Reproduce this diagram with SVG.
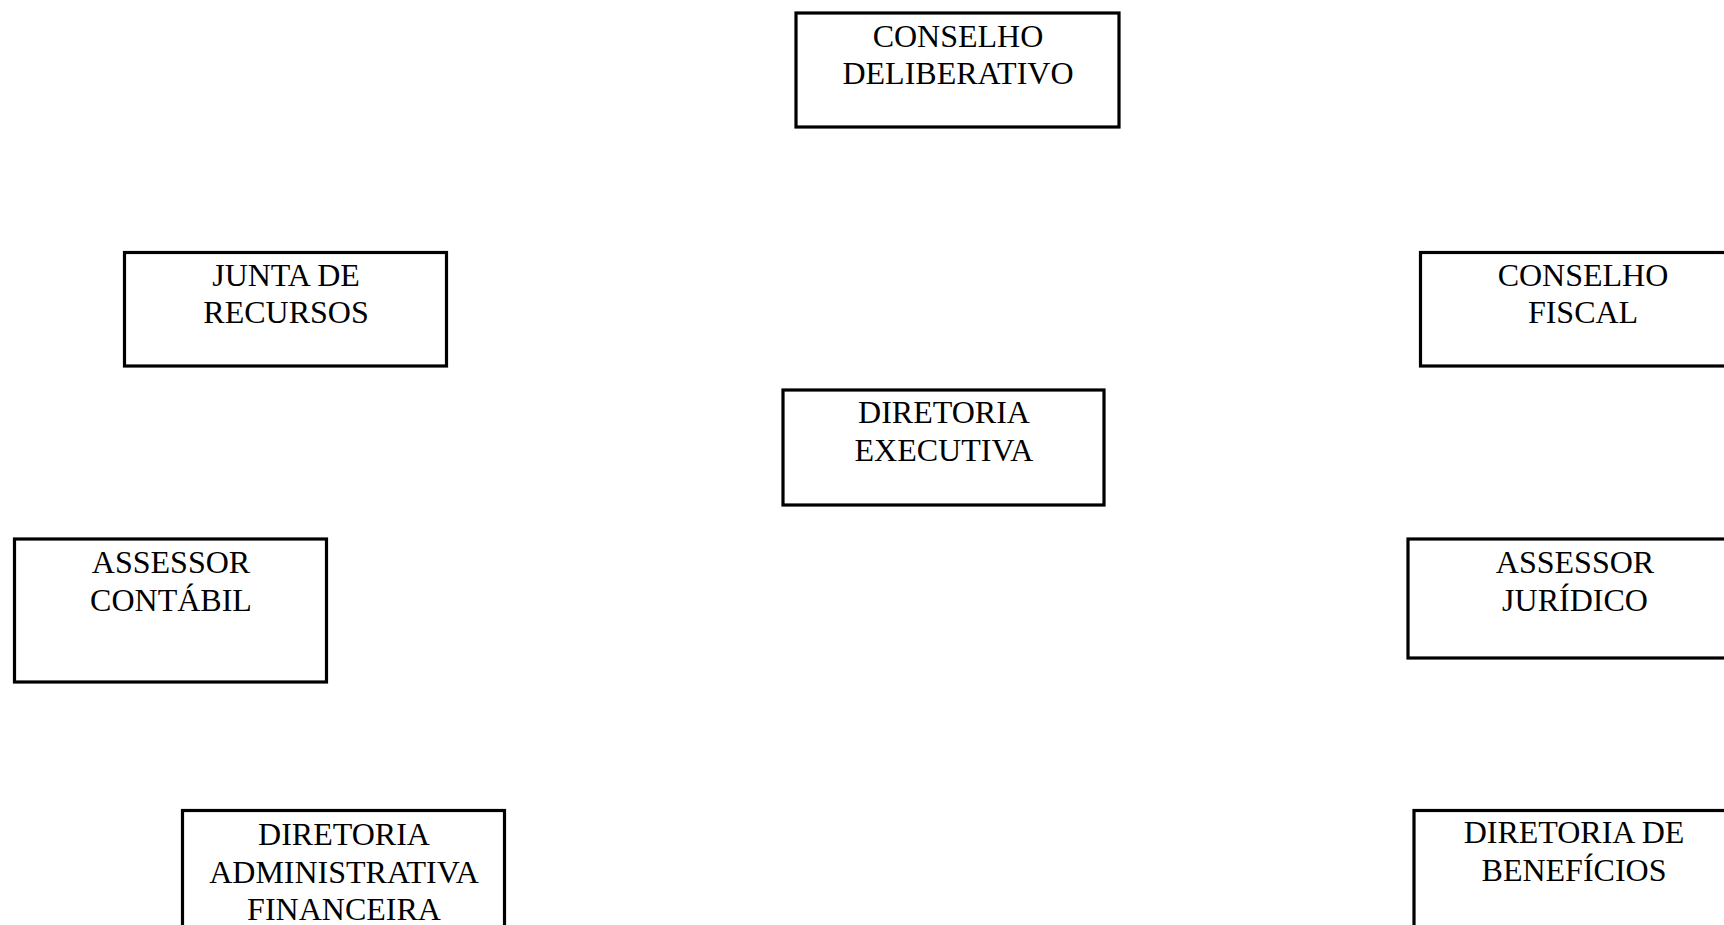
<svg xmlns="http://www.w3.org/2000/svg" width="1724" height="925" viewBox="0 0 1724 925">
<style>
.box{fill:#fff;stroke:#000;stroke-width:3.2}
.t{font-family:"Liberation Serif","Times New Roman",serif;font-size:32px;fill:#000;text-anchor:middle}
</style>
<rect x="0" y="0" width="1724" height="925" fill="#fff"/>
<g id="connectors"></g>
<g id="conselho-deliberativo">
<rect class="box" x="796" y="13" width="323" height="114"/>
<text class="t" x="958" y="47">CONSELHO</text>
<text class="t" x="958" y="84">DELIBERATIVO</text>
</g>
<g id="junta-de-recursos">
<rect class="box" x="124.5" y="252.5" width="322" height="113.5"/>
<text class="t" x="286" y="286">JUNTA DE</text>
<text class="t" x="286" y="323">RECURSOS</text>
</g>
<g id="conselho-fiscal">
<rect class="box" x="1420.5" y="252.5" width="326" height="113.5"/>
<text class="t" x="1583" y="286">CONSELHO</text>
<text class="t" x="1583" y="323">FISCAL</text>
</g>
<g id="diretoria-executiva">
<rect class="box" x="783" y="390" width="321" height="115"/>
<text class="t" x="944" y="423">DIRETORIA</text>
<text class="t" x="944" y="461">EXECUTIVA</text>
</g>
<g id="assessor-contabil">
<rect class="box" x="14.5" y="539" width="312" height="143"/>
<text class="t" x="171" y="573">ASSESSOR</text>
<text class="t" x="171" y="611">CONTÁBIL</text>
</g>
<g id="assessor-juridico">
<rect class="box" x="1408" y="539" width="335" height="119"/>
<text class="t" x="1575" y="573">ASSESSOR</text>
<text class="t" x="1575" y="611">JURÍDICO</text>
</g>
<g id="diretoria-administrativa-financeira">
<rect class="box" x="182.5" y="810.5" width="322" height="130"/>
<text class="t" x="344" y="845">DIRETORIA</text>
<text class="t" x="344" y="883">ADMINISTRATIVA</text>
<text class="t" x="344" y="920">FINANCEIRA</text>
</g>
<g id="diretoria-de-beneficios">
<rect class="box" x="1414" y="810.5" width="320" height="130"/>
<text class="t" x="1574" y="843">DIRETORIA DE</text>
<text class="t" x="1574" y="881">BENEFÍCIOS</text>
</g>
</svg>
